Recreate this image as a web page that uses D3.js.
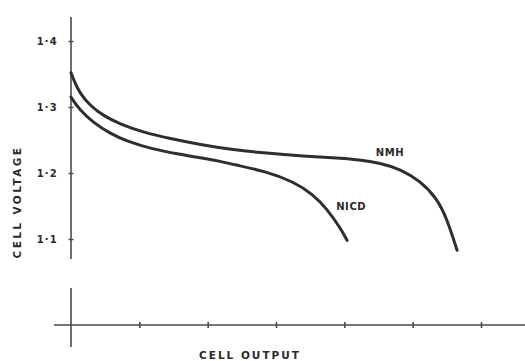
<!DOCTYPE html>
<html>
<head>
<meta charset="utf-8">
<script src="https://cdn.jsdelivr.net/npm/d3@7"></script>
<style>
  body { margin: 0; background: #fff; }
  text { font-family: "DejaVu Sans", sans-serif; font-weight: bold; fill: #2a2a2a; }
</style>
</head>
<body>
<script>

// data (x in output units, y in volts)
var nmhOutput  = [0, 0.06, 0.13, 0.28, 0.47, 0.72, 1.05, 1.45, 1.89, 2.37, 2.87, 3.35, 3.84, 4.23, 4.52, 4.82, 5.11, 5.36, 5.5, 5.65];
var nmhVoltage = [1.352, 1.336, 1.321, 1.302, 1.287, 1.274, 1.262, 1.252, 1.243, 1.235, 1.230, 1.226, 1.223, 1.220, 1.215, 1.206, 1.188, 1.161, 1.131, 1.083];
var nicdOutput  = [0, 0.13, 0.32, 0.57, 0.82, 1.16, 1.6, 1.89, 2.18, 2.37, 2.87, 3.25, 3.54, 3.75, 3.94, 4.04];
var nicdVoltage = [1.315, 1.295, 1.277, 1.260, 1.248, 1.237, 1.228, 1.223, 1.218, 1.213, 1.202, 1.187, 1.168, 1.145, 1.117, 1.098];
var voltTicks = [1.1, 1.2, 1.3, 1.4];
var voltLabels = ["1·1", "1·2", "1·3", "1·4"];
var outputTicks = [1, 2, 3, 4, 5, 6];

var width = 525, height = 361;

var svg = d3.select("body").append("svg")
  .attr("width", width)
  .attr("height", height);

var xScale = d3.scaleLinear().domain([0, 6]).range([71, 481]);
var yScale = d3.scaleLinear().domain([1.1, 1.4]).range([239, 41]);
var axisY = 325;

var line = d3.line()
  .curve(d3.curveBasis)
  .x(function(d) { return xScale(d[0]); })
  .y(function(d) { return yScale(d[1]); });

// voltage axis
svg.append("line")
  .attr("x1", xScale(0)).attr("x2", xScale(0))
  .attr("y1", 17).attr("y2", 259)
  .attr("stroke", "#4a4a4a").attr("stroke-width", 1.6);

var yAxis = d3.axisLeft(yScale)
  .tickValues(voltTicks)
  .tickSize(3)
  .tickPadding(10)
  .tickFormat(function(d, i) { return voltLabels[i]; });

svg.append("g")
  .attr("transform", "translate(" + xScale(0) + ",0)")
  .call(yAxis)
  .call(function(g) {
    g.select(".domain").remove();
    g.selectAll(".tick line").attr("x1", 2.5).attr("x2", -2.5).attr("stroke", "#4a4a4a").attr("stroke-width", 1.4);
    g.selectAll(".tick text").style("font-size", "10px").style("letter-spacing", "1.2px").attr("fill", "#2a2a2a");
  });

// output axis
svg.append("line")
  .attr("x1", 54).attr("x2", 525)
  .attr("y1", axisY).attr("y2", axisY)
  .attr("stroke", "#4a4a4a").attr("stroke-width", 1.6);
svg.append("line")
  .attr("x1", xScale(0)).attr("x2", xScale(0))
  .attr("y1", 288).attr("y2", 347)
  .attr("stroke", "#4a4a4a").attr("stroke-width", 1.6);

var xAxis = d3.axisBottom(xScale)
  .tickValues(outputTicks)
  .tickSize(3)
  .tickFormat("");

svg.append("g")
  .attr("transform", "translate(0," + axisY + ")")
  .call(xAxis)
  .call(function(g) {
    g.select(".domain").remove();
    g.selectAll(".tick line").attr("y1", -3).attr("y2", 3).attr("stroke", "#4a4a4a").attr("stroke-width", 1.6);
  });

// curves
var series = [
  { name: "NMH",  data: d3.zip(nmhOutput, nmhVoltage) },
  { name: "NICD", data: d3.zip(nicdOutput, nicdVoltage) }
];

svg.selectAll(".curve")
  .data(series)
  .enter()
  .append("path")
  .attr("class", "curve")
  .attr("d", function(d) { return line(d.data); })
  .attr("fill", "none")
  .attr("stroke", "#2e2e2e")
  .attr("stroke-width", 3)
  .attr("stroke-linecap", "round");

// curve labels
svg.append("text").attr("x", xScale(4.46)).attr("y", yScale(1.231))
  .attr("dy", "0.35em").style("font-size", "10px").style("letter-spacing", "0.6px")
  .text("NMH");
svg.append("text").attr("x", xScale(3.88)).attr("y", yScale(1.149))
  .attr("dy", "0.35em").style("font-size", "10px").style("letter-spacing", "0.6px")
  .text("NICD");

// axis titles
svg.append("text")
  .attr("transform", "translate(21,202) rotate(-90)")
  .attr("text-anchor", "middle")
  .style("font-size", "10.5px").style("letter-spacing", "2.4px")
  .text("CELL VOLTAGE");

svg.append("text")
  .attr("x", 250).attr("y", 359)
  .attr("text-anchor", "middle")
  .style("font-size", "10.5px").style("letter-spacing", "2px")
  .text("CELL OUTPUT");

</script>
</body>
</html>
